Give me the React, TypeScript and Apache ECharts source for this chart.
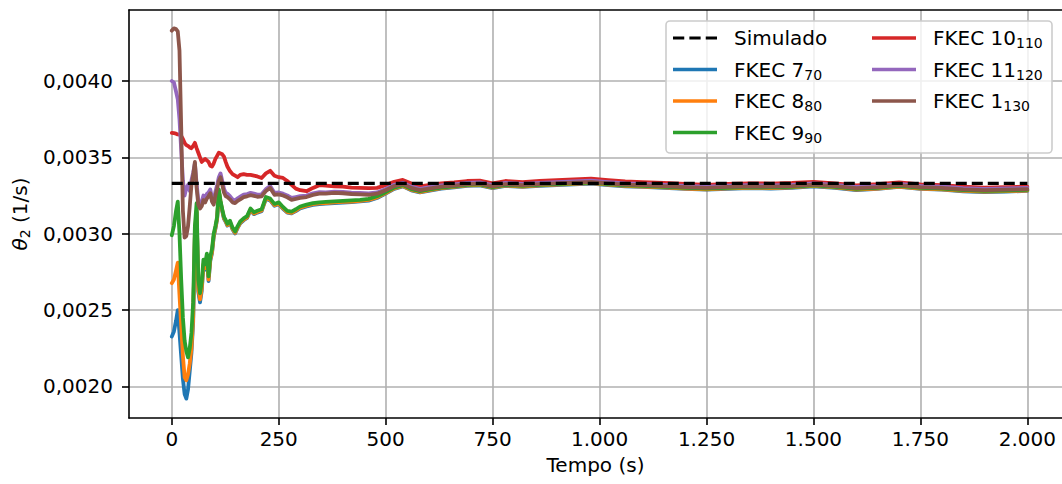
import React, { useEffect, useRef } from 'react';
import * as echarts from 'echarts';

// Tempo (s)
const tempo = [
  0, 5, 10, 14, 18, 22, 26, 30,
  34, 38, 42, 46, 50, 54, 58, 62, 66, 70, 74, 78, 82, 86, 90, 94, 98, 102, 106, 110, 114, 118, 122, 126, 130,
  136, 142, 148, 154, 160,
  168, 176, 184, 192, 200,
  210, 220, 230, 240, 250, 260, 270, 280, 290, 300,
  315, 330, 345, 360,
  380, 400, 420, 440, 460, 480, 500, 520, 540, 560, 580, 600,
  630, 660, 690, 720, 750, 780,
  820, 860, 900, 940, 980, 1020, 1060, 1100,
  1150, 1200, 1250, 1300, 1350, 1400, 1450, 1500, 1550, 1600, 1650, 1700, 1750, 1800, 1850, 1900, 1950, 2000,
];

const simuladoT = [0, 2000];
const simuladoV = [0.00333, 0.00333];

const fkec7 = [
  0.002326, 0.00236, 0.00243, 0.0025, 0.00235, 0.0022, 0.00205, 0.00195,
  0.00192, 0.00198, 0.0021, 0.00222, 0.00242, 0.00298, 0.00314, 0.00262, 0.00255, 0.002625, 0.00279, 0.002765, 0.002835, 0.00269, 0.002822, 0.002872, 0.002978, 0.003032, 0.003095, 0.003275, 0.003203, 0.003148, 0.003098, 0.003078, 0.003053,
  0.003073, 0.003028, 0.003002, 0.003038, 0.003068,
  0.003088, 0.003103, 0.003153, 0.003128, 0.003138,
  0.003148, 0.003228, 0.003218, 0.003183, 0.003193, 0.003163, 0.003138, 0.003133, 0.003148, 0.003166,
  0.003179, 0.003189, 0.003194, 0.003197,
  0.003201, 0.003204, 0.003207, 0.003211, 0.003217, 0.003234, 0.003263, 0.003294, 0.00331, 0.003284, 0.00327, 0.00328,
  0.003295, 0.003303, 0.003313, 0.003316, 0.003298, 0.003313,
  0.003306, 0.003313, 0.003318, 0.003323, 0.003328, 0.003318, 0.00331, 0.003306,
  0.0033, 0.003293, 0.003288, 0.003294, 0.003298, 0.003296, 0.0033, 0.00331, 0.0033, 0.003286, 0.003293, 0.003306, 0.003293, 0.003288, 0.003278, 0.003273, 0.003276, 0.00328,
];

const fkec8 = [
  0.002676, 0.0027, 0.00276, 0.00281, 0.0026, 0.0024, 0.0022, 0.00206,
  0.00204, 0.00208, 0.00215, 0.00225, 0.00245, 0.003, 0.00315, 0.00264, 0.00257, 0.00264, 0.0028, 0.002775, 0.002845, 0.0027, 0.00283, 0.00288, 0.002985, 0.003038, 0.0031, 0.00328, 0.003207, 0.003152, 0.003102, 0.003082, 0.003057,
  0.003077, 0.003032, 0.003006, 0.003042, 0.003072,
  0.003092, 0.003107, 0.003157, 0.003132, 0.003142,
  0.003152, 0.003232, 0.003222, 0.003187, 0.003197, 0.003167, 0.003142, 0.003137, 0.003152, 0.00317,
  0.003183, 0.003193, 0.003198, 0.003201,
  0.003205, 0.003208, 0.003211, 0.003215, 0.003221, 0.003238, 0.003266, 0.003297, 0.003313, 0.003287, 0.003273, 0.003283,
  0.003298, 0.003306, 0.003316, 0.003319, 0.003301, 0.003316,
  0.003309, 0.003316, 0.003321, 0.003326, 0.003331, 0.003321, 0.003313, 0.003309,
  0.003303, 0.003296, 0.003291, 0.003297, 0.003301, 0.003299, 0.003303, 0.003313, 0.003303, 0.003289, 0.003296, 0.003309, 0.003296, 0.003291, 0.003281, 0.003276, 0.003279, 0.003283,
];

const fkec9 = [
  0.00299, 0.00305, 0.00315, 0.00321, 0.003, 0.0027, 0.00245, 0.0023,
  0.00223, 0.00219, 0.00225, 0.00235, 0.00255, 0.00305, 0.0032, 0.0027, 0.00261, 0.00268, 0.00283, 0.0028, 0.00287, 0.00272, 0.00285, 0.0029, 0.003, 0.00305, 0.00311, 0.00329, 0.003215, 0.00316, 0.00311, 0.00309, 0.003065,
  0.003085, 0.00304, 0.003014, 0.00305, 0.00308,
  0.0031, 0.003115, 0.003165, 0.00314, 0.00315,
  0.00316, 0.00324, 0.00323, 0.003195, 0.003205, 0.003175, 0.00315, 0.003145, 0.00316, 0.003178,
  0.00319, 0.0032, 0.003205, 0.003208,
  0.003212, 0.003215, 0.003218, 0.003222, 0.003228, 0.003245, 0.003272, 0.003302, 0.003318, 0.003292, 0.003278, 0.003288,
  0.003302, 0.00331, 0.00332, 0.003323, 0.003305, 0.00332,
  0.003313, 0.00332, 0.003325, 0.00333, 0.003335, 0.003325, 0.003317, 0.003313,
  0.003307, 0.0033, 0.003295, 0.003301, 0.003305, 0.003303, 0.003307, 0.003317, 0.003307, 0.003293, 0.0033, 0.003313, 0.0033, 0.003295, 0.003285, 0.00328, 0.003283, 0.003287,
];

const fkec10 = [
  0.00366, 0.003658, 0.003655, 0.00365, 0.003648, 0.00364, 0.00362, 0.003595,
  0.00358, 0.003575, 0.003565, 0.00356, 0.003575, 0.003595, 0.00356, 0.00353, 0.0035, 0.00347, 0.00348, 0.00349, 0.00348, 0.00347, 0.003445, 0.00344, 0.00346, 0.00349, 0.00351, 0.00353, 0.003525, 0.00352, 0.003505, 0.00347, 0.00344,
  0.00341, 0.00339, 0.00338, 0.00337, 0.003385,
  0.00339, 0.003385, 0.003385, 0.00338, 0.003375,
  0.003365, 0.003395, 0.003412, 0.00338, 0.00337, 0.003365, 0.003345, 0.00332, 0.003295, 0.003285,
  0.003278, 0.0033, 0.003318, 0.003315,
  0.00331, 0.003308, 0.003302, 0.0033, 0.003298, 0.0033, 0.003318, 0.00334, 0.003352, 0.003328, 0.00331, 0.003318,
  0.00333, 0.003336, 0.003345, 0.003348, 0.00333, 0.003345,
  0.003338, 0.003345, 0.00335, 0.003355, 0.00336, 0.00335, 0.003342, 0.003338,
  0.003332, 0.003326, 0.00332, 0.003326, 0.00333, 0.003328, 0.003332, 0.00334, 0.00333, 0.003316, 0.003324, 0.003336, 0.003323, 0.003318, 0.003308, 0.003302, 0.003305, 0.003308,
];

const fkec11 = [
  0.004, 0.00399, 0.00393, 0.00388, 0.00375, 0.00355, 0.00335, 0.00325,
  0.0033, 0.00332, 0.00328, 0.00335, 0.0034, 0.00346, 0.00333, 0.00322, 0.0032, 0.00321, 0.00325, 0.00323, 0.00326, 0.00327, 0.00329, 0.003235, 0.003215, 0.003275, 0.00332, 0.00337, 0.003395, 0.003345, 0.003295, 0.003268, 0.003262,
  0.003246, 0.003225, 0.003218, 0.003232, 0.003242,
  0.003256, 0.00326, 0.003267, 0.003262, 0.003256,
  0.003258, 0.003292, 0.003312, 0.003268, 0.00327, 0.003262, 0.00325, 0.003234, 0.00324, 0.003246,
  0.00325, 0.003264, 0.003272, 0.003271,
  0.003276, 0.003274, 0.003269, 0.003267, 0.003264, 0.00327, 0.003293, 0.00332, 0.003333, 0.003308, 0.003293, 0.003303,
  0.003316, 0.003323, 0.003333, 0.003336, 0.003318, 0.003333,
  0.003326, 0.003333, 0.003338, 0.003343, 0.003348, 0.003338, 0.00333, 0.003326,
  0.00332, 0.003313, 0.003308, 0.003314, 0.003318, 0.003316, 0.00332, 0.00333, 0.00332, 0.003306, 0.003313, 0.003326, 0.003313, 0.003308, 0.003298, 0.003293, 0.003296, 0.0033,
];

const fkec1 = [
  0.00433, 0.004345, 0.00434, 0.004325, 0.0042, 0.0037, 0.00315, 0.002975,
  0.002985, 0.00305, 0.00318, 0.00332, 0.00338, 0.00347, 0.0033, 0.00319, 0.003165, 0.00318, 0.00322, 0.003205, 0.00323, 0.003245, 0.003265, 0.00321, 0.00319, 0.00325, 0.003295, 0.003345, 0.00337, 0.00332, 0.00327, 0.003245, 0.00324,
  0.003225, 0.003205, 0.0032, 0.003215, 0.003225,
  0.00324, 0.003245, 0.003252, 0.003248, 0.003242,
  0.003245, 0.00328, 0.0033, 0.003255, 0.003258, 0.00325, 0.003238, 0.003222, 0.003228, 0.003234,
  0.00324, 0.003254, 0.003262, 0.003262,
  0.003267, 0.003265, 0.00326, 0.003258, 0.003255, 0.003262, 0.003285, 0.003312, 0.003325, 0.0033, 0.003285, 0.003295,
  0.003308, 0.003315, 0.003325, 0.003328, 0.00331, 0.003325,
  0.003318, 0.003325, 0.00333, 0.003335, 0.00334, 0.00333, 0.003322, 0.003318,
  0.003312, 0.003305, 0.0033, 0.003306, 0.00331, 0.003308, 0.003312, 0.003322, 0.003312, 0.003298, 0.003305, 0.003318, 0.003305, 0.0033, 0.00329, 0.003285, 0.003288, 0.003292,
];

const xTicks = [0, 250, 500, 750, 1000, 1250, 1500, 1750, 2000];
const yTicks = [0.002, 0.0025, 0.003, 0.0035, 0.004];

const FONT = 'DejaVu Sans';
const DASH_ICON = 'path://M0,0h11v3h-11zM16,0h11v3h-11zM32,0h11v3h-11z';

const fmtX = (v: number) => {
  const n = Math.round(v);
  if (Math.abs(n) >= 1000) {
    return Math.floor(n / 1000) + '.' + String(n % 1000).padStart(3, '0');
  }
  return String(n);
};
const fmtY = (v: number) => v.toFixed(4).replace('.', ',');

export default function App() {
  const ref = useRef<HTMLDivElement>(null);

  useEffect(() => {
    const chart = echarts.init(ref.current!, null, { renderer: 'svg' });
    const pair = (vals: number[]) => tempo.map((t, i) => [t, vals[i]]);
    const mk = (name: string, color: string, vals: number[]) => ({
      type: 'line',
      name,
      data: pair(vals),
      showSymbol: false,
      symbol: 'none',
      silent: true,
      z: 2,
      itemStyle: { color },
      lineStyle: { color, width: 3.8, join: 'round', cap: 'round' },
    });

    const richLegend = {
      m: { fontFamily: FONT, fontSize: 20, color: '#000', lineHeight: 24 },
      s: { fontFamily: FONT, fontSize: 14, color: '#000', lineHeight: 14, verticalAlign: 'bottom', padding: [10, 0, 0, 0] },
    };
    const legendFmt = (name: string) => {
      const parts = name.split('_');
      return parts.length > 1 ? `{m|${parts[0]}}{s|${parts[1]}}` : `{m|${parts[0]}}`;
    };
    const legendBase = {
      orient: 'vertical',
      padding: 0,
      itemWidth: 44,
      itemHeight: 3.4,
      itemGap: 7.5,
      formatter: legendFmt,
      selectedMode: false,
      textStyle: { fontFamily: FONT, fontSize: 20, color: '#000', lineHeight: 24, padding: [0, 0, 0, 12], rich: richLegend },
      z: 5,
    };

    const option = {
      animation: false,
      backgroundColor: '#ffffff',
      grid: { left: 129, top: 10, right: 0, bottom: 66, containLabel: false },
      xAxis: [
        {
          type: 'value',
          min: -100,
          max: 2081,
          name: 'Tempo (s)',
          nameLocation: 'middle',
          nameGap: 37,
          nameTextStyle: { fontFamily: FONT, fontSize: 20, color: '#000' },
          axisLine: { show: true, onZero: false, lineStyle: { color: '#000', width: 1.6 } },
          axisTick: { show: true, length: 7, customValues: xTicks, lineStyle: { color: '#000', width: 1.6 } },
          axisLabel: {
            customValues: xTicks,
            margin: 11,
            fontFamily: FONT,
            fontSize: 20,
            color: '#000',
            formatter: fmtX,
          },
          splitLine: { show: true, lineStyle: { color: '#b0b0b0', width: 1.6 } },
        },
        {
          type: 'value',
          position: 'top',
          min: -100,
          max: 2081,
          axisLine: { show: true, onZero: false, lineStyle: { color: '#000', width: 1.6 } },
          axisTick: { show: false },
          axisLabel: { show: false },
          splitLine: { show: false },
        },
      ],
      yAxis: {
        type: 'value',
        min: 0.001793,
        max: 0.004465,
        name: '{it|θ}{s|2}{n| (1/s)}',
        nameLocation: 'middle',
        nameGap: 96,
        nameTextStyle: {
          fontFamily: FONT,
          fontSize: 20,
          color: '#000',
          rich: {
            it: { fontFamily: FONT, fontSize: 20, fontStyle: 'italic', color: '#000' },
            s: { fontFamily: FONT, fontSize: 14, color: '#000', verticalAlign: 'bottom', padding: [10, 0, 0, 0] },
            n: { fontFamily: FONT, fontSize: 20, color: '#000' },
          },
        },
        axisLine: { show: true, onZero: false, lineStyle: { color: '#000', width: 1.6 } },
        axisTick: { show: true, length: 7, customValues: yTicks, lineStyle: { color: '#000', width: 1.6 } },
        axisLabel: {
          customValues: yTicks,
          margin: 16,
          fontFamily: FONT,
          fontSize: 20,
          color: '#000',
          formatter: fmtY,
        },
        splitLine: { show: true, lineStyle: { color: '#b0b0b0', width: 1.6 } },
      },
      legend: [
        {
          ...legendBase,
          left: 673,
          top: 26,
          data: [
            { name: 'Simulado', icon: DASH_ICON },
            { name: 'FKEC 7_70', icon: 'rect' },
            { name: 'FKEC 8_80', icon: 'rect' },
            { name: 'FKEC 9_90', icon: 'rect' },
          ],
        },
        {
          ...legendBase,
          left: 872,
          top: 26,
          data: [
            { name: 'FKEC 10_110', icon: 'rect' },
            { name: 'FKEC 11_120', icon: 'rect' },
            { name: 'FKEC 1_130', icon: 'rect' },
          ],
        },
      ],
      graphic: [
        {
          type: 'rect',
          z: 3,
          silent: true,
          shape: { x: 666, y: 21, width: 386, height: 132, r: 4 },
          style: { fill: 'rgba(255,255,255,0.8)', stroke: '#cccccc', lineWidth: 1.6 },
        },
      ],
      series: [
        mk('FKEC 7_70', '#1f77b4', fkec7),
        mk('FKEC 8_80', '#ff7f0e', fkec8),
        mk('FKEC 9_90', '#2ca02c', fkec9),
        mk('FKEC 10_110', '#d62728', fkec10),
        mk('FKEC 11_120', '#9467bd', fkec11),
        mk('FKEC 1_130', '#8c564b', fkec1),
        {
          type: 'line',
          name: 'Simulado',
          data: simuladoT.map((t, i) => [t, simuladoV[i]]),
          showSymbol: false,
          symbol: 'none',
          silent: true,
          z: 3,
          itemStyle: { color: '#000' },
          lineStyle: { color: '#000', width: 3.2, type: [11, 5] },
        },
      ],
    };

    chart.setOption(option as any);
    return () => chart.dispose();
  }, []);

  return <div ref={ref} style={{ position: 'fixed', left: 0, top: 0, width: 1062, height: 484 }} />;
}
